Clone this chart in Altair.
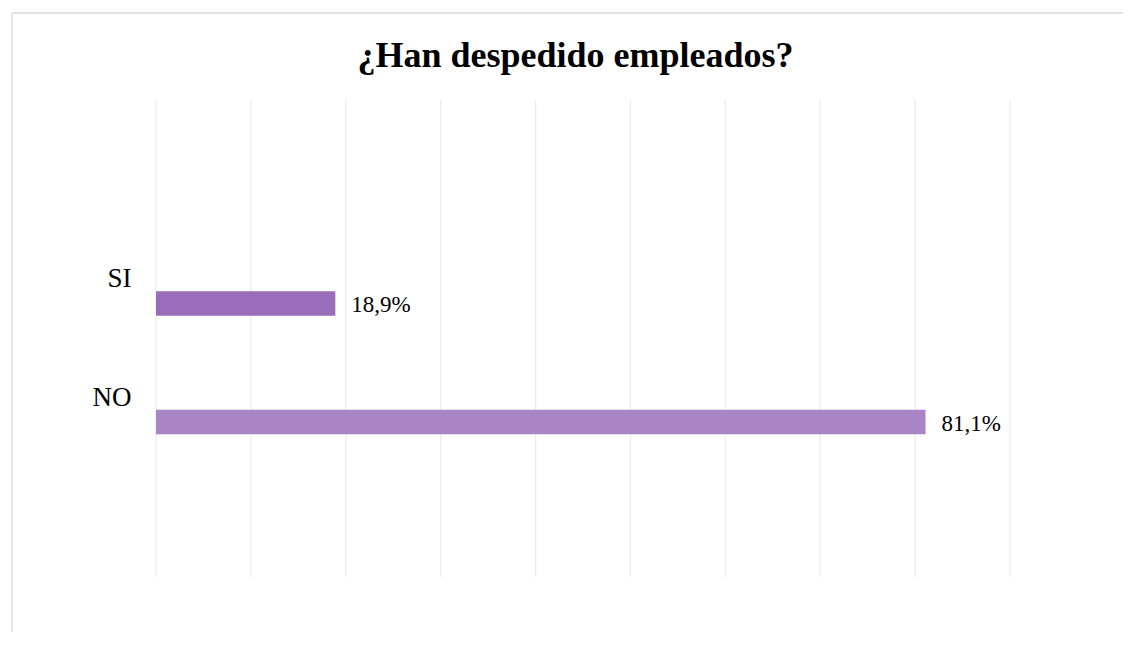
import altair as alt
import pandas as pd

categories = ["SI", "NO"]
values = [18.9, 81.1]
value_labels = ["18,9%", "81,1%"]
bar_colors = ["#9a6dbb", "#aa85c6"]
grid_ticks = [0, 10, 20, 30, 40, 50, 60, 70, 80, 90]
title_text = ["¿Han despedido empleados?"]

df = pd.DataFrame({"cat": categories, "val": values, "lab": value_labels})
grid_df = pd.DataFrame({"tick": grid_ticks})
title_df = pd.DataFrame({"t": title_text})

FONT = "Liberation Serif"

yscale = alt.Scale(type="point", domain=categories, range=[203.5, 322], padding=0)
xscale = alt.Scale(domain=[0, 90], nice=False, zero=True)

y_enc = alt.Y(
    "cat:N",
    scale=yscale,
    axis=alt.Axis(
        title=None, ticks=False, domain=False, grid=False,
        labelPadding=25, labelOffset=-25, labelFont=FONT, labelFontSize=27,
        labelColor="#000000", labelFontWeight="normal", labelBaseline="middle",
    ),
)

grid = alt.Chart(grid_df).mark_rule(color="#ececec", strokeWidth=1.3).encode(
    x=alt.X("tick:Q", scale=xscale, axis=None),
    y=alt.value(0),
    y2=alt.value(477),
)

bars = alt.Chart(df).mark_bar(size=24.5).encode(
    x=alt.X("val:Q", scale=xscale, axis=None),
    y=y_enc,
    color=alt.Color("cat:N", scale=alt.Scale(domain=categories, range=bar_colors), legend=None),
)

text = alt.Chart(df).mark_text(
    align="left", baseline="middle", dx=16, dy=1.5, font=FONT, fontSize=23, color="#000000"
).encode(
    x=alt.X("val:Q", scale=xscale, axis=None),
    y=alt.Y("cat:N", scale=yscale),
    text="lab:N",
)

title = alt.Chart(title_df).mark_text(
    align="center", baseline="alphabetic", font=FONT, fontSize=36, fontWeight="bold", color="#000000"
).encode(
    x=alt.value(419.5),
    y=alt.value(-33.3),
    text="t:N",
)

border_top = alt.Chart(title_df).mark_rule(color="#d9d9d9", strokeWidth=1.3).encode(
    x=alt.value(-144), x2=alt.value(967), y=alt.value(-87)
)
border_left = alt.Chart(title_df).mark_rule(color="#d9d9d9", strokeWidth=1.3).encode(
    x=alt.value(-144), y=alt.value(-87), y2=alt.value(540)
)

chart = alt.layer(border_top, border_left, grid, bars, text, title).properties(
    width=854,
    height=477,
    padding={"left": 148, "top": 92, "right": 113, "bottom": 55},
    autosize=alt.AutoSizeParams(type="none"),
    background="#ffffff",
).configure_view(strokeWidth=0)

chart.save("out.html", embed_options={"renderer": "svg", "actions": False})
